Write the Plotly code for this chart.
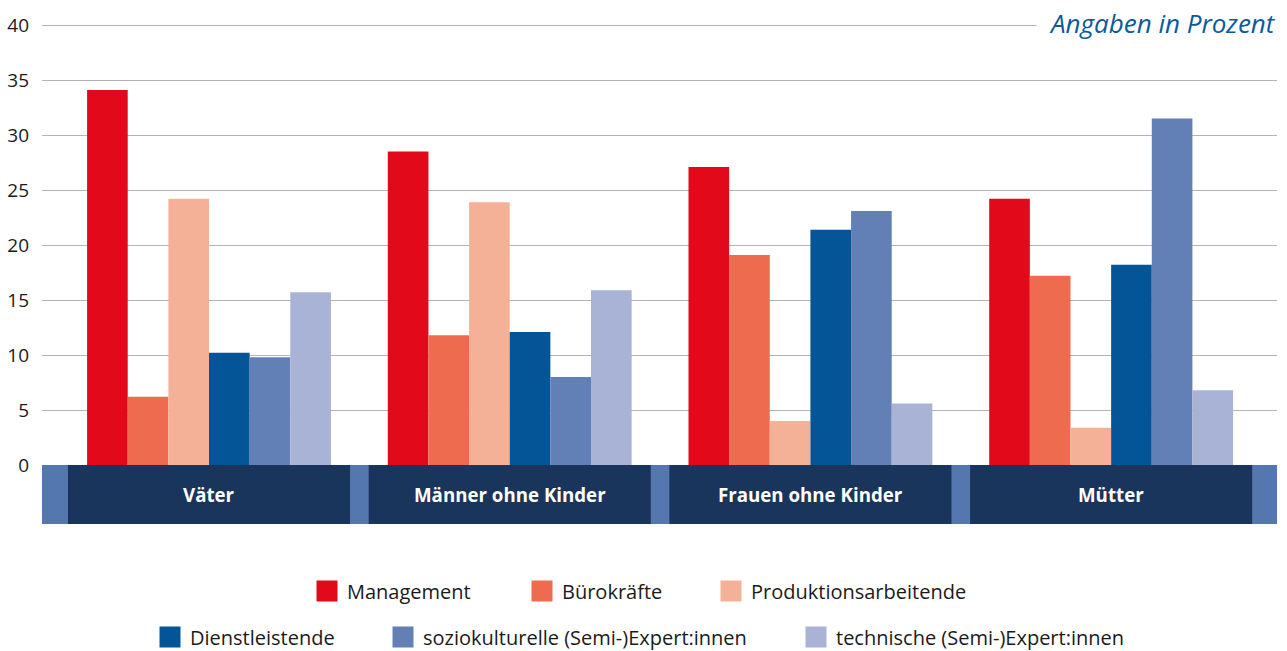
import plotly.graph_objects as go

categories = ["Väter", "Männer ohne Kinder", "Frauen ohne Kinder", "Mütter"]
series_names = ["Management", "Bürokräfte", "Produktionsarbeitende",
                "Dienstleistende", "soziokulturelle (Semi-)Expert:innen",
                "technische (Semi-)Expert:innen"]
management = [34.1, 28.5, 27.1, 24.2]
buerokraefte = [6.2, 11.8, 19.1, 17.2]
produktion = [24.2, 23.9, 4.0, 3.4]
dienstleistende = [10.2, 12.1, 21.4, 18.2]
soziokulturelle = [9.8, 8.0, 23.1, 31.5]
technische = [15.7, 15.9, 5.6, 6.8]
y_ticks = [0, 5, 10, 15, 20, 25, 30, 35, 40]
unit_note = "Angaben in Prozent"

values = [management, buerokraefte, produktion, dienstleistende,
          soziokulturelle, technische]
colors = ["#E20A1A", "#EE6B4F", "#F5B198", "#035597", "#6380B6", "#A9B3D6"]

W, H = 1287, 651
# legend swatch positions (container px): (left x, center y)
legend_pos = [(317, 591), (532, 591), (721, 591),
              (160, 637), (393, 637), (806, 637)]

fig = go.Figure()
x_idx = list(range(len(categories)))
for i, (name, vals, col) in enumerate(zip(series_names, values, colors)):
    fig.add_trace(go.Bar(x=x_idx, y=vals, name=name, marker_color=col,
                         marker_line_width=0, showlegend=False))
for i, (name, col) in enumerate(zip(series_names, colors)):
    lg = "legend" if i == 0 else f"legend{i+1}"
    fig.add_trace(go.Scatter(x=[None], y=[None], mode="markers", name=name,
                             marker=dict(symbol="square", size=16, color=col,
                                         line=dict(color=col, width=5)),
                             legend=lg, showlegend=True, hoverinfo="skip"))

legend_font = dict(family="Open Sans", size=20, color="#1a1a1a")
for i in range(len(series_names)):
    key = "legend" if i == 0 else f"legend{i+1}"
    sx, sy = legend_pos[i]
    fig.update_layout(**{key: dict(
        x=(sx - 10) / W, y=1 - sy / H, xref="container", yref="container",
        xanchor="left", yanchor="middle", orientation="h",
        bgcolor="rgba(0,0,0,0)", borderwidth=0, font=legend_font,
        tracegroupgap=0)})

# category band below the axis
band_bottom = -5.36
y_top = 40.185
shapes = [dict(type="rect", xref="paper", yref="y", x0=0, x1=1, y0=band_bottom,
               y1=0, fillcolor="#5577B0", line_width=0, layer="above")]
half = 0.469
annotations = []
for i, cat in enumerate(categories):
    shapes.append(dict(type="rect", xref="x", yref="y", x0=i - half, x1=i + half,
                       y0=band_bottom, y1=0, fillcolor="#1A355C", line_width=0,
                       layer="above"))
    annotations.append(dict(x=i, y=band_bottom / 2, xref="x", yref="y",
                            text=f"<b>{cat}</b>", showarrow=False,
                            font=dict(family="Open Sans", size=18.7, color="white")))

annotations.append(dict(x=1, y=40, xref="paper", yref="y", text=unit_note,
                        showarrow=False, xanchor="right", yanchor="middle",
                        xshift=12, yshift=2, bgcolor="white", borderpad=12,
                        font=dict(family="Open Sans", size=26, color="#0A5A9E",
                                  style="italic")))

fig.update_layout(
    width=W, height=H,
    margin=dict(l=42, r=10, t=23, b=127, autoexpand=False),
    plot_bgcolor="white", paper_bgcolor="white",
    barmode="group", bargap=0.189, bargroupgap=0,
    shapes=shapes, annotations=annotations,
    xaxis=dict(range=[-0.5554, 3.5516], showticklabels=False, showgrid=False,
               zeroline=False, showline=False, fixedrange=True),
    yaxis=dict(range=[band_bottom, y_top], tickvals=y_ticks, showgrid=True,
               gridcolor="#B4B4B4", gridwidth=1.2, zeroline=False, showline=False,
               ticks="", ticklabelstandoff=12,
               tickfont=dict(family="Open Sans", size=19, color="#1a1a1a")),
)

fig.write_html("out.html", config={"displayModeBar": False},
               post_script="document.body.style.margin='0';")
